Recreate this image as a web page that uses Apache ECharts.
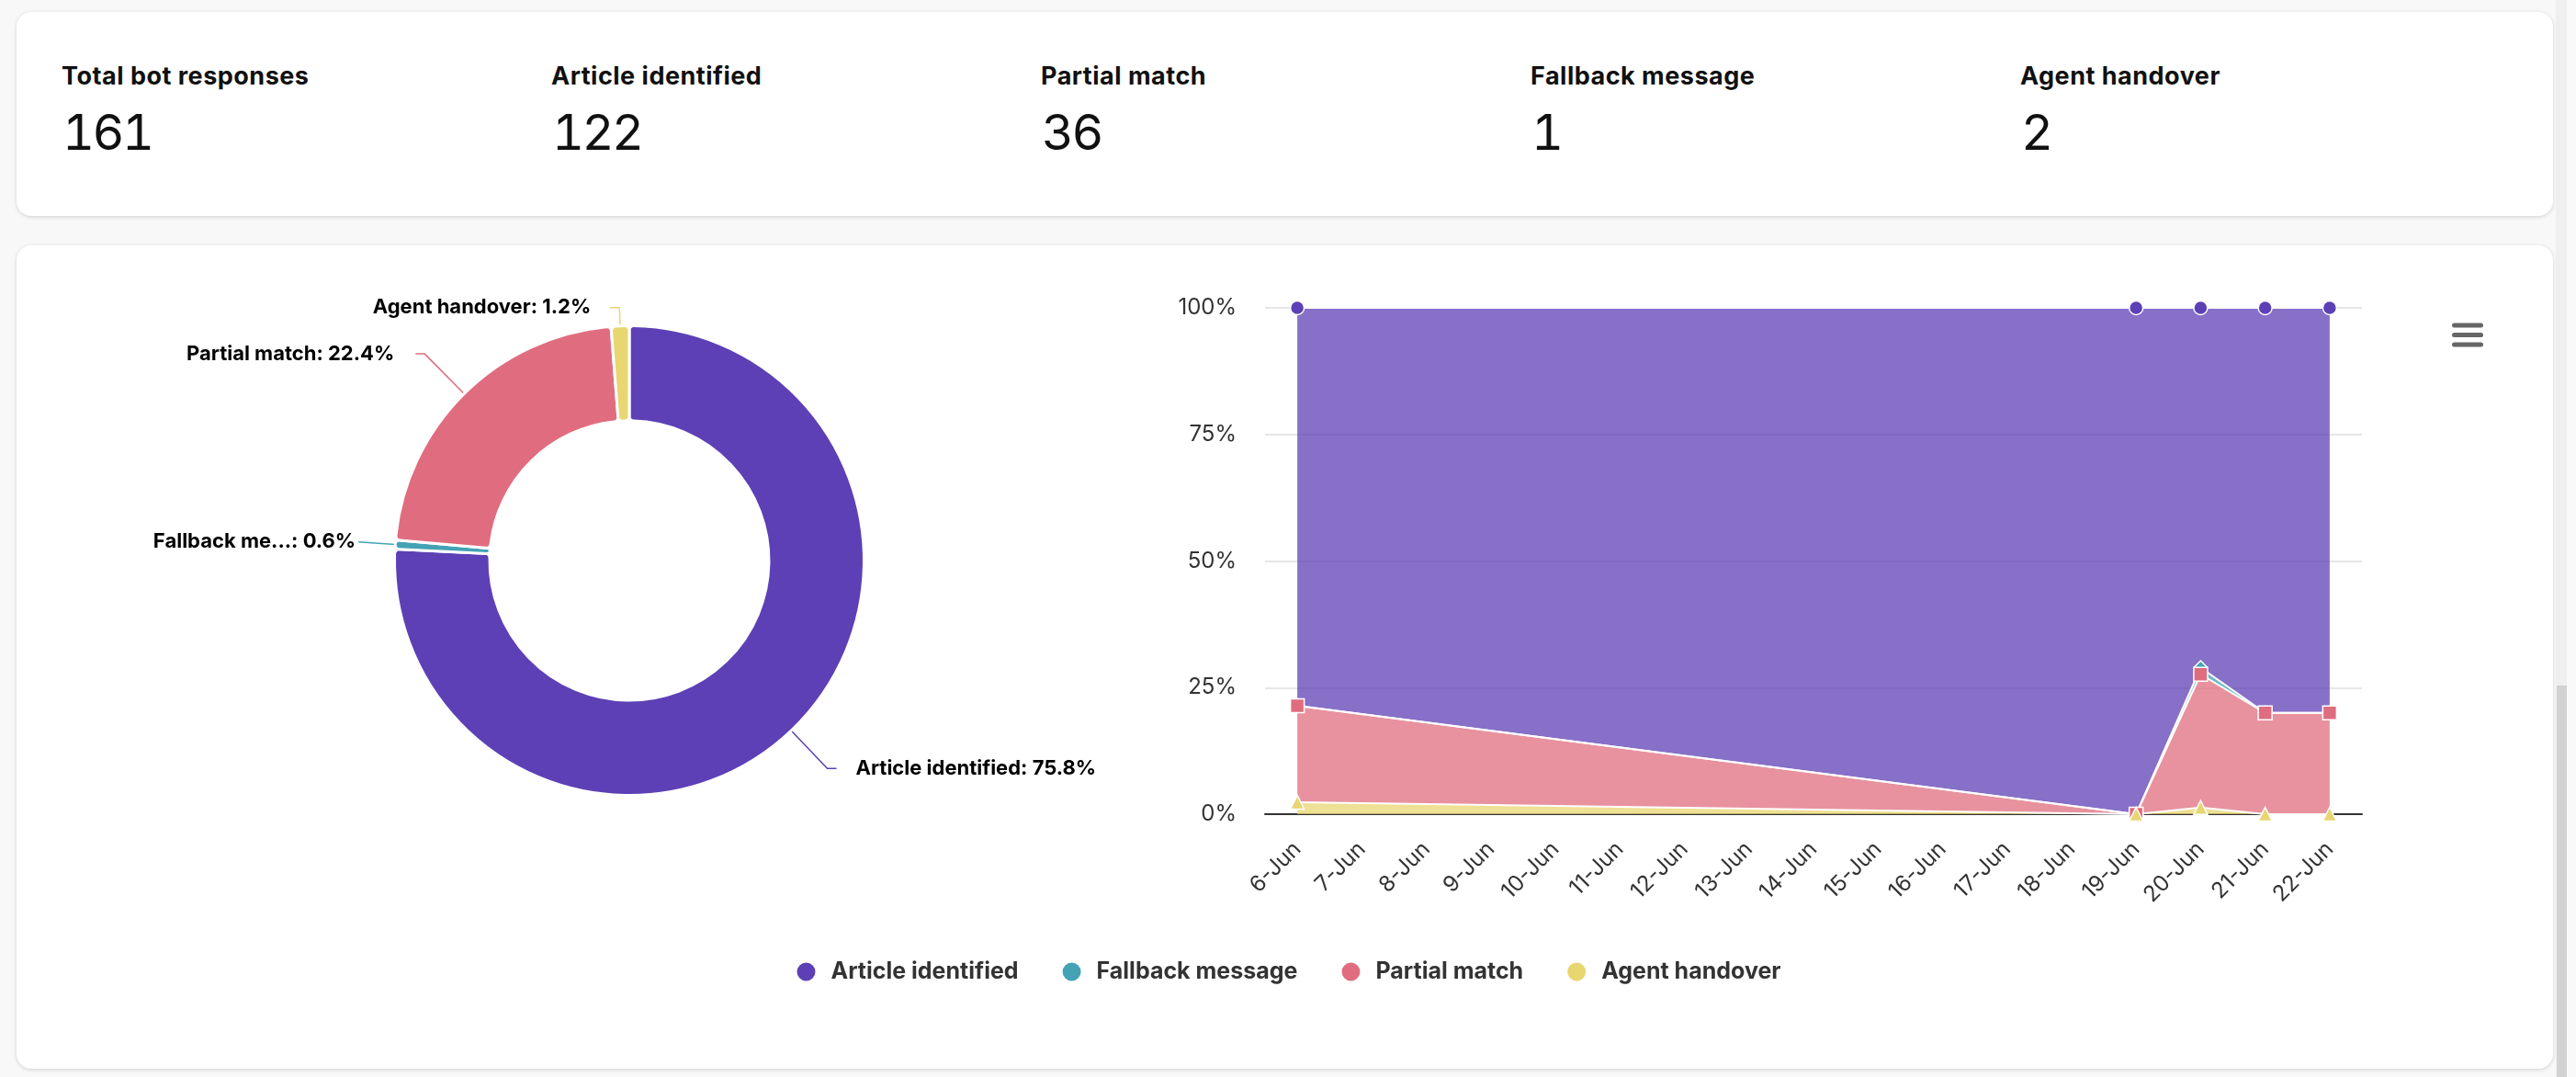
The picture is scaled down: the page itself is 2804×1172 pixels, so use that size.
<!DOCTYPE html>
<html>
<head>
<meta charset="utf-8">
<script src="https://cdn.jsdelivr.net/npm/echarts@6/dist/echarts.min.js"></script>
<style>
html,body{margin:0;padding:0;width:2804px;height:1172px;overflow:hidden;background:#f8f8f8;font-family:Inter,"Noto Sans",sans-serif;}
.card{position:absolute;left:18px;width:2761px;background:#fff;border-radius:16px;box-shadow:0 1px 4px rgba(0,0,0,0.16);}
#kpiCard{top:13px;height:222px;}
#chartCard{top:267px;height:896px;}
.kpi-label{position:absolute;top:69px;font-size:27px;font-weight:700;line-height:27px;letter-spacing:0.5px;color:#111;white-space:nowrap;}
.kpi-value{position:absolute;top:117px;font-size:54px;font-weight:400;line-height:54px;letter-spacing:-2.5px;color:#111;white-space:nowrap;font-feature-settings:"tnum" 1;font-variant-numeric:tabular-nums;}
#chart{position:absolute;left:0;top:0;width:2804px;height:1172px;}
#sbTrack{position:absolute;left:2782px;top:0;width:12px;height:1172px;background:#efefef;}
#sbRight{position:absolute;left:2794px;top:0;width:10px;height:1172px;background:#f9f9f9;}
#sbThumb{position:absolute;left:2783px;top:746px;width:11px;height:426px;background:#d2d2d2;}
</style>
</head>
<body>
<div class="card" id="kpiCard"></div>
<div class="card" id="chartCard"></div>
<div id="sbTrack"></div><div id="sbRight"></div><div id="sbThumb"></div>
<div id="kpis"></div>
<div id="chart"></div>
<script>
// ---------- data ----------
const kpiLabels = ['Total bot responses', 'Article identified', 'Partial match', 'Fallback message', 'Agent handover'];
const kpiValues = [161, 122, 36, 1, 2];

const seriesNames = ['Article identified', 'Fallback message', 'Partial match', 'Agent handover'];
const pieValues = [122, 1, 36, 2];

const categories = ['6-Jun', '7-Jun', '8-Jun', '9-Jun', '10-Jun', '11-Jun', '12-Jun', '13-Jun', '14-Jun',
  '15-Jun', '16-Jun', '17-Jun', '18-Jun', '19-Jun', '20-Jun', '21-Jun', '22-Jun'];
const categoryDays = [6, 7, 8, 9, 10, 11, 12, 13, 14, 15, 16, 17, 18, 19, 20, 21, 22]; // June
// daily counts (null = no responses that day)
const articleDaily  = [33, null, null, null, null, null, null, null, null, null, null, null, null, 3, 54, 16, 16];
const fallbackDaily = [0,  null, null, null, null, null, null, null, null, null, null, null, null, 0, 1, 0, 0];
const partialDaily  = [8,  null, null, null, null, null, null, null, null, null, null, null, null, 0, 20, 4, 4];
const agentDaily    = [1,  null, null, null, null, null, null, null, null, null, null, null, null, 0, 1, 0, 0];

const yTicks = [0, 25, 50, 75, 100];

// ---------- styles ----------
const FONT = 'Inter';
const colors = ['#5d40b5', '#44a2b5', '#e06d7f', '#e8d671'];
const symbols = ['circle', 'diamond', 'rect', 'triangle'];
const pieLabelLen = [57, 40, 61, 20];
const pieLabelLen2 = [10, 0, 10, 11];
const pieLabelGap = [21, 3, 23, 20];
const pieNameLimit = [0, 11, 0, 0];

// ---------- KPI header ----------
const kpiBox = document.getElementById('kpis');
kpiLabels.forEach((lab, i) => {
  const x = 67 + i * 533;
  const l = document.createElement('div');
  l.className = 'kpi-label'; l.style.left = x + 'px'; l.textContent = lab;
  const v = document.createElement('div');
  v.className = 'kpi-value'; v.style.left = (x + 1) + 'px'; v.textContent = kpiValues[i];
  kpiBox.appendChild(l); kpiBox.appendChild(v);
});

// ---------- chart ----------
const DAY = 86400000;
const dayTime = d => Date.UTC(2024, 5, categoryDays[d]);
const daily = [articleDaily, fallbackDaily, partialDaily, agentDaily];
const dayTotals = categories.map((_, d) => {
  const vals = daily.map(a => a[d]);
  if (vals.every(v => v == null)) return null;
  return vals.reduce((s, v) => s + (v || 0), 0);
});
// percentage-stacked points, only for days that have responses
const pctPoints = daily.map(a => {
  const pts = [];
  a.forEach((v, d) => { if (dayTotals[d]) pts.push([dayTime(d), (v || 0) / dayTotals[d] * 100]); });
  return pts;
});

const pieSeries = {
  type: 'pie',
  center: [685, 610],
  radius: [152, 255.5],
  startAngle: 90,
  clockwise: true,
  percentPrecision: 1,
  avoidLabelOverlap: false,
  silent: true,
  itemStyle: { borderColor: '#fff', borderWidth: 3, borderRadius: 5 },
  label: {
    show: true, position: 'outside', fontFamily: FONT, fontSize: 22, fontWeight: 'bold', color: '#000',
    formatter: p => {
      const lim = pieNameLimit[p.dataIndex];
      const nm = (lim && p.name.length > lim) ? p.name.slice(0, lim) + '...' : p.name;
      return nm + ': ' + p.percent + '%';
    }
  },
  labelLine: { show: true, lineStyle: { width: 1.5 } },
  emphasis: { disabled: true },
  data: seriesNames.map((n, i) => ({
    name: n, value: pieValues[i],
    itemStyle: { color: colors[i] },
    labelLine: { length: pieLabelLen[i], length2: pieLabelLen2[i] },
    label: { distanceToLabelLine: pieLabelGap[i] }
  }))
};

const lineSeries = seriesNames.map((n, i) => ({
  type: 'line', name: n, stack: 'pct', stackOrder: 'seriesDesc',
  xAxisIndex: 1,
  data: pctPoints[i],
  symbol: symbols[i], symbolSize: 15, showSymbol: true, showAllSymbol: true,
  itemStyle: { color: colors[i], borderColor: '#fff', borderWidth: 1.5 },
  lineStyle: { color: '#fff', width: 2 },
  areaStyle: { color: colors[i], opacity: 0.75 },
  emphasis: { disabled: true },
  silent: true
}));

const chart = echarts.init(document.getElementById('chart'), null, { renderer: 'canvas' });
chart.setOption({
  animation: false,
  textStyle: { fontFamily: FONT },
  color: colors,
  legend: {
    data: seriesNames, left: 'center', top: 1040, icon: 'circle',
    itemWidth: 22, itemHeight: 22, itemGap: 46, selectedMode: false,
    textStyle: { fontFamily: FONT, fontSize: 25, fontWeight: 'bold', color: '#333', padding: [0, 0, 0, 11] }
  },
  grid: { left: 1377, right: 233, top: 335, bottom: 286 },
  xAxis: [{
    type: 'category', data: categories, boundaryGap: true,
    axisTick: { show: false },
    axisLine: { lineStyle: { color: '#333', width: 2 } },
    axisLabel: { rotate: 45, interval: 0, fontFamily: FONT, fontSize: 24, color: '#333', margin: 34, padding: [16, 0, 0, 0] },
    splitLine: { show: false }
  }, {
    type: 'time', show: false,
    min: dayTime(0) - DAY / 2, max: dayTime(categories.length - 1) + DAY / 2,
    splitLine: { show: false }
  }],
  yAxis: {
    type: 'value', min: yTicks[0], max: yTicks[yTicks.length - 1], interval: yTicks[1] - yTicks[0],
    axisLabel: { formatter: '{value}%', fontFamily: FONT, fontSize: 24, color: '#333', margin: 31 },
    axisLine: { show: false }, axisTick: { show: false },
    splitLine: { lineStyle: { color: '#e6e6e6', width: 2 } }
  },
  graphic: [0, 1, 2].map(k => ({
    type: 'rect', shape: { x: 2669, y: 351.5 + k * 10.5, width: 34, height: 5, r: 2.5 },
    style: { fill: '#666' }
  })),
  series: [pieSeries].concat(lineSeries)
});
</script>
</body>
</html>
